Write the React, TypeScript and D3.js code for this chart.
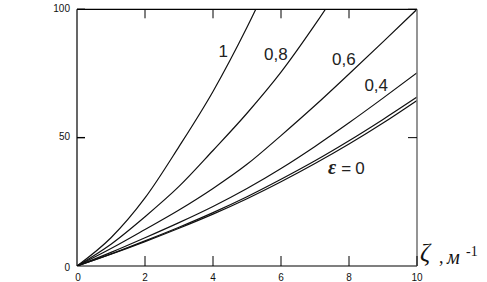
import React, { useEffect } from "react";
import * as d3 from "d3";

const zeta = [0, 1, 2, 3, 4, 5, 6, 7, 8, 9, 10];
const eps1 = [0, 11, 26.5, 46.5, 68, 93, 121];
const eps08 = [0, 8.5, 19.2, 31, 45, 59.5, 75.5, 94, 114];
const eps06 = [0, 6.8, 14.2, 21.8, 30.2, 39.6, 50.8, 62.5, 74.8, 87.3, 100];
const eps04 = [0, 5.3, 11, 16.9, 23.2, 30.2, 38, 46.6, 55.8, 65.4, 75.3];
const eps02 = [0, 4.7, 9.8, 15.1, 20.8, 27, 33.8, 41, 48.8, 57.1, 65.8];
const eps0 = [0, 4.6, 9.5, 14.7, 20.2, 26.2, 32.8, 39.9, 47.5, 55.7, 64.5];
const xTicks = [0, 2, 4, 6, 8, 10];
const yTicks = [0, 50, 100];
const curveLabels = [
  { text: "1", z: 4.3, v: 83 },
  { text: "0,8", z: 5.85, v: 82 },
  { text: "0,6", z: 7.85, v: 80 },
  { text: "0,4", z: 8.8, v: 70 },
];

const W = 487;
const H = 282;
const L = 77, R = 417, T = 9.3, B = 266;

export default function App() {
  useEffect(() => {
    document.body.style.margin = "0";
  }, []);
  const x = d3.scaleLinear().domain([0, 10]).range([L, R]);
  const y = d3.scaleLinear().domain([0, 100]).range([B, T]);
  const line = d3
    .line<number>()
    .x((_, i) => x(zeta[i]))
    .y((d) => y(d))
    .curve(d3.curveMonotoneX);
  const series = [eps1, eps08, eps06, eps04, eps02, eps0];
  const font = "'Liberation Sans', Arial, sans-serif";
  const serif = "'Liberation Serif', 'Times New Roman', serif";
  return (
    <svg width={W} height={H} style={{ display: "block", background: "#fff" }}>
      <defs>
        <clipPath id="plot">
          <rect x={L} y={T} width={R - L} height={B - T} />
        </clipPath>
      </defs>
      <g clipPath="url(#plot)">
        {series.map((s, i) => (
          <path key={i} d={line(s) || ""} fill="none" stroke="#111" strokeWidth={1.2} />
        ))}
      </g>
      {/* frame */}
      <line x1={L} y1={T} x2={R} y2={T} stroke="#000" strokeWidth={1.2} />
      <line x1={L} y1={B} x2={R} y2={B} stroke="#000" strokeWidth={1.2} />
      <line x1={L} y1={T} x2={L} y2={B} stroke="#000" strokeWidth={1.2} />
      <line x1={R} y1={T} x2={R} y2={B} stroke="#7a7a7a" strokeWidth={1.6} />
      {/* x ticks */}
      {xTicks.map((t) => (
        <g key={"x" + t}>
          {t > 0 && <line x1={x(t)} x2={x(t)} y1={B} y2={B - 10} stroke="#000" strokeWidth={1} />}
          {t > 0 && t < 10 && <line x1={x(t)} x2={x(t)} y1={T} y2={T + 9} stroke="#000" strokeWidth={1} />}
          <text x={x(t) + (t === 0 ? 1 : 0)} y={B + 15} fontSize={10} fontFamily={font} textAnchor="middle" fill="#111">
            {t}
          </text>
        </g>
      ))}
      {/* y ticks */}
      {yTicks.map((t) => (
        <g key={"y" + t}>
          {t > 0 && <line x1={L} x2={L + 8} y1={y(t)} y2={y(t)} stroke="#000" strokeWidth={1.4} />}
          {t > 0 && <line x1={R} x2={R - 9} y1={y(t)} y2={y(t)} stroke="#000" strokeWidth={1} />}
          <text x={70} y={y(t) + (t === 0 ? 2 : 0)} fontSize={10} fontFamily={font} textAnchor="end" dominantBaseline="middle" fill="#111">
            {t}
          </text>
        </g>
      ))}
      {/* curve labels */}
      {curveLabels.map((c) => (
        <text key={c.text} x={x(c.z)} y={y(c.v)} fontSize={17} fontFamily={font} textAnchor="middle" dominantBaseline="middle" fill="#222">
          {c.text}
        </text>
      ))}
      <text x={328} y={174} fontFamily={font} fill="#222">
        <tspan fontSize={20} fontStyle="italic" fontWeight="bold" fontFamily={serif}>ε</tspan>
        <tspan fontSize={17} dx={5}>=</tspan>
        <tspan fontSize={17} dx={4}>0</tspan>
      </text>
      {/* axis title */}
      <g fontFamily={serif} fill="#111">
        <text x={420} y={261} fontSize={25} fontStyle="italic">ζ</text>
        <text x={439} y={263} fontSize={18}>,</text>
        <text x={447} y={264} fontSize={20} fontStyle="italic">м</text>
        <text x={466} y={256} fontSize={14}>-1</text>
      </g>
    </svg>
  );
}
